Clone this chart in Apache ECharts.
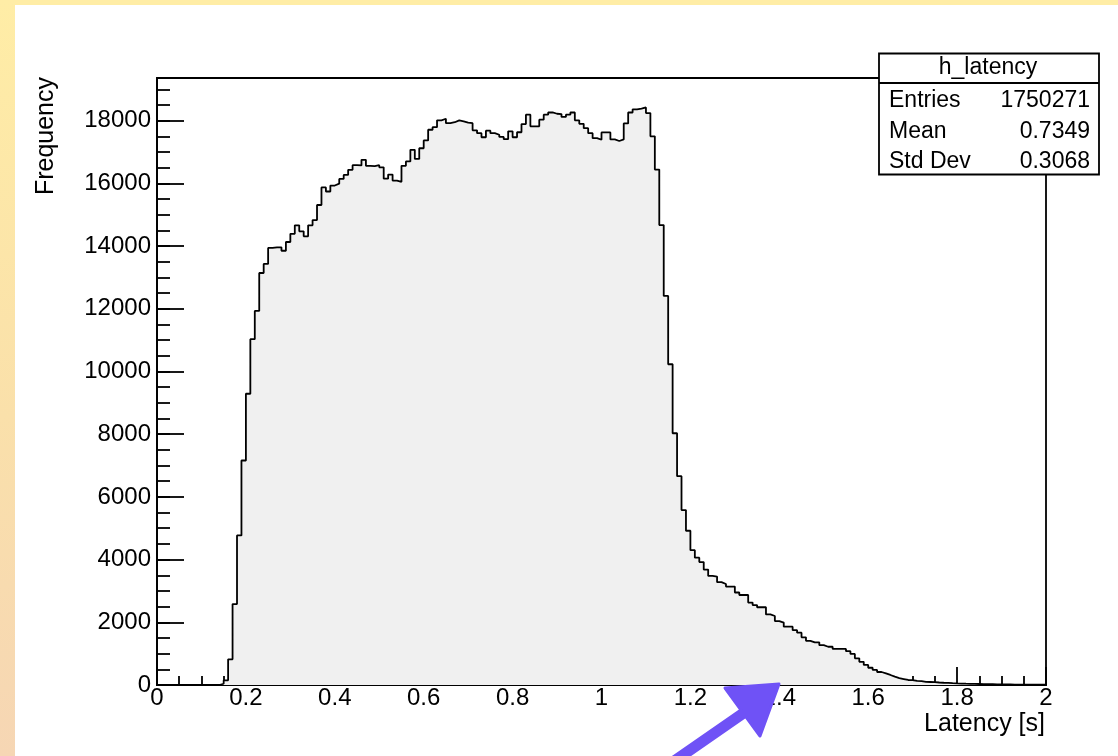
<!DOCTYPE html>
<html>
<head>
<meta charset="utf-8">
<script src="https://cdn.jsdelivr.net/npm/echarts@6/dist/echarts.min.js"></script>
<style>
  html, body { margin: 0; padding: 0; width: 1118px; height: 756px; background: #ffffff; overflow: hidden; }
  #topStrip { position: absolute; left: 0; top: 0; width: 1118px; height: 5px; background: #FFEDA6; }
  #leftStrip { position: absolute; left: 0; top: 0; width: 15px; height: 756px; background: linear-gradient(#FFEDA6, #FAE0AA 55%, #F6D6B4); }
  #chart { position: absolute; left: 0; top: 0; width: 1118px; height: 756px; }
</style>
</head>
<body>
<div id="topStrip"></div>
<div id="leftStrip"></div>
<div id="chart"></div>
<script>
// Histogram h_latency: 200 bins of width 0.01 s between 0 and 2 s
const binStart = 0;
const binWidth = 0.01;
const nBins = 200;

// Bin contents (Frequency)
const counts000to049 = [
  0, 0, 0, 0, 0, 0, 0, 0, 0, 0,
  0, 0, 0, 0, 40, 150, 820, 2580, 4770, 7160,
  9290, 11030, 11930, 13140, 13430, 13940, 13960, 13960, 13850, 14130,
  14390, 14660, 14470, 14310, 14660, 14830, 15310, 15870, 15740, 15930,
  15990, 16140, 16270, 16430, 16580, 16570, 16750, 16560, 16550, 16580
];
const counts050to099 = [
  16510, 16150, 16280, 16090, 16050, 16560, 16700, 17070, 16780, 17120,
  17370, 17710, 17790, 18010, 18060, 17920, 17950, 18010, 17980, 17940,
  17920, 17690, 17600, 17470, 17680, 17600, 17550, 17480, 17410, 17660,
  17470, 17630, 17890, 18190, 17820, 17820, 18030, 18190, 18260, 18220,
  18210, 18120, 18190, 18260, 18010, 17900, 17760, 17600, 17440, 17390
];
const counts100to149 = [
  17625, 17625, 17400, 17350, 17400, 17910, 18260, 18360, 18380, 18420,
  18240, 17500, 16440, 14670, 12410, 10230, 8030, 6660, 5580, 4920,
  4300, 4060, 3920, 3680, 3480, 3460, 3280, 3220, 3140, 3140,
  2950, 2870, 2870, 2630, 2550, 2480, 2480, 2250, 2200, 2040,
  1990, 1860, 1860, 1750, 1670, 1520, 1410, 1360, 1360, 1270
];
const counts150to199 = [
  1220, 1220, 1150, 1150, 1150, 1080, 990, 850, 740, 640,
  550, 480, 415, 370, 320, 265, 220, 190, 160, 155,
  130, 125, 100, 95, 90, 80, 72, 65, 58, 52,
  47, 42, 38, 35, 32, 29, 26, 24, 22, 20,
  18, 17, 15, 14, 13, 12, 11, 10, 9, 9
];

// Axis settings / tick labels
const xMin = 0, xMax = 2, xMajor = 0.2, xMinorSplit = 4;
const yMin = 0, yMax = 19360, yMajor = 2000, yMinor = 500;

// Stats box text
const statsTitle = 'h_latency';
const statsLabels = ['Entries', 'Mean', 'Std Dev'];
const statsValues = ['1750271', '0.7349', '0.3068'];

const xTitle = 'Latency [s]';
const yTitle = 'Frequency';

const counts = counts000to049.concat(counts050to099, counts100to149, counts150to199);
const stepData = [];
for (let i = 0; i < nBins; i++) {
  stepData.push([+(binStart + i * binWidth).toFixed(4), counts[i]]);
}
stepData.push([+(binStart + nBins * binWidth).toFixed(4), counts[nBins - 1]]);

const FONT = '"Liberation Sans", Arial, Helvetica, sans-serif';
const LW = 1.8;
const chart = echarts.init(document.getElementById('chart'), null, { renderer: 'canvas' });

const option = {
  animation: false,
  backgroundColor: 'transparent',
  grid: {
    left: 157, top: 78, width: 889, height: 607,
    show: true, backgroundColor: '#ffffff', borderColor: '#000000', borderWidth: LW,
    containLabel: false
  },
  xAxis: [{
    type: 'value', min: xMin, max: xMax, interval: xMajor,
    axisLine: { show: true, onZero: false, lineStyle: { color: '#000', width: LW } },
    axisTick: { show: true, inside: true, length: 18, lineStyle: { color: '#000', width: LW } },
    minorTick: { show: true, splitNumber: xMinorSplit, length: 9, lineStyle: { color: '#000', width: LW } },
    splitLine: { show: false },
    axisLabel: {
      show: true, margin: 1, color: '#000', fontSize: 24, fontFamily: FONT,
      formatter: v => String(parseFloat((+v).toFixed(2)))
    }
  }],
  yAxis: [{
    type: 'value', min: yMin, max: yMax, interval: yMajor, position: 'left',
    axisLine: { show: true, onZero: false, lineStyle: { color: '#000', width: LW } },
    axisTick: { show: true, inside: true, length: 27, lineStyle: { color: '#000', width: LW } },
    splitLine: { show: false },
    axisLabel: {
      show: true, margin: 6, color: '#000', fontSize: 24, fontFamily: FONT, showMaxLabel: false,
      formatter: v => (Math.round(v) % yMajor === 0 ? String(Math.round(v)) : '')
    }
  }, {
    type: 'value', min: yMin, max: yMax, interval: yMinor, position: 'left', offset: 0,
    axisLine: { show: false },
    axisTick: { show: true, inside: true, length: 13, lineStyle: { color: '#000', width: LW } },
    splitLine: { show: false },
    axisLabel: { show: false }
  }],
  series: [{
    type: 'line',
    name: statsTitle,
    xAxisIndex: 0, yAxisIndex: 0,
    step: 'end',
    data: stepData,
    symbol: 'none',
    silent: true,
    lineStyle: { color: '#000', width: LW },
    areaStyle: { color: '#f0f0f0', opacity: 1, origin: 'start' },
    z: 1
  }],
  graphic: [
    // axis titles
    {
      type: 'text', x: 1045, y: 724, z: 10,
      style: { text: xTitle, font: '25px ' + FONT, fill: '#000', textAlign: 'right', textVerticalAlign: 'middle' }
    },
    {
      type: 'text', x: 46, y: 77, rotation: Math.PI / 2, z: 10,
      style: { text: yTitle, font: '25px ' + FONT, fill: '#000', textAlign: 'right', textVerticalAlign: 'middle' }
    },
    // stats box
    {
      type: 'rect', z: 20,
      shape: { x: 879, y: 53.5, width: 220, height: 121 },
      style: { fill: '#fff', stroke: '#000', lineWidth: LW }
    },
    {
      type: 'line', z: 21,
      shape: { x1: 879, y1: 83, x2: 1099, y2: 83 },
      style: { stroke: '#000', lineWidth: LW }
    },
    {
      type: 'text', x: 988, y: 68, z: 22,
      style: { text: statsTitle, font: '23px ' + FONT, fill: '#000', textAlign: 'center', textVerticalAlign: 'middle' }
    },
    ...statsLabels.map((t, i) => ({
      type: 'text', x: 889, y: 101 + i * 30.5, z: 22,
      style: { text: t, font: '23px ' + FONT, fill: '#000', textAlign: 'left', textVerticalAlign: 'middle' }
    })),
    ...statsValues.map((t, i) => ({
      type: 'text', x: 1090, y: 101 + i * 30.5, z: 22,
      style: { text: t, font: '23px ' + FONT, fill: '#000', textAlign: 'right', textVerticalAlign: 'middle' }
    })),
    // hand-drawn purple arrow annotation
    {
      type: 'line', z: 30,
      shape: { x1: 670, y1: 764, x2: 745, y2: 712 },
      style: { stroke: '#6f52f6', lineWidth: 11, lineCap: 'round' }
    },
    {
      type: 'polygon', z: 30,
      shape: { points: [[725, 688], [779, 684], [760, 736]] },
      style: { fill: '#6f52f6', stroke: '#6f52f6', lineWidth: 3, lineJoin: 'round' }
    }
  ]
};
chart.setOption(option);
</script>
</body>
</html>
